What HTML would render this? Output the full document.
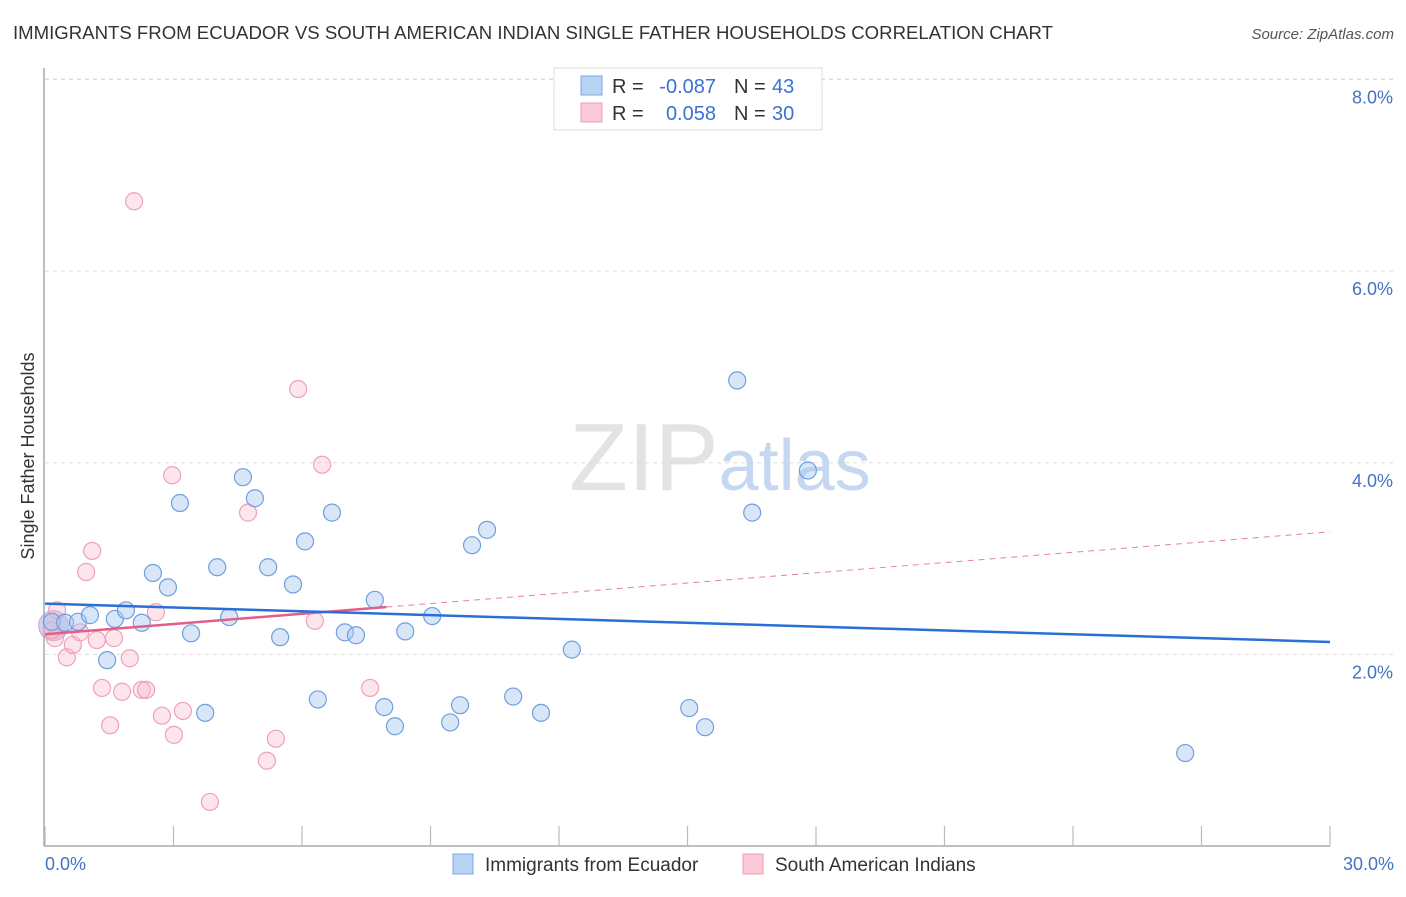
<!DOCTYPE html>
<html><head><meta charset="utf-8"><style>
body{margin:0;background:#fff;font-family:"Liberation Sans",sans-serif;}
svg text{font-family:"Liberation Sans",sans-serif;}
</style></head><body>
<svg width="1406" height="892" xmlns="http://www.w3.org/2000/svg">
<text x="13" y="39" font-size="18.5" fill="#333" textLength="1040" lengthAdjust="spacingAndGlyphs">IMMIGRANTS FROM ECUADOR VS SOUTH AMERICAN INDIAN SINGLE FATHER HOUSEHOLDS CORRELATION CHART</text>
<text x="1394" y="39" font-size="15" fill="#555" font-style="italic" text-anchor="end">Source: ZipAtlas.com</text>
<g id="grid"></g>
<text x="720" y="490" font-size="96" text-anchor="middle" font-family="Liberation Serif" fill="#ddd" opacity="0.8">ZIP<tspan fill="#b8cfee" font-family="Liberation Sans" font-size="72">atlas</tspan></text>
<line x1="44" y1="68" x2="44" y2="846" stroke="#aaa" stroke-width="1.5"/>
<line x1="44" y1="846" x2="1330" y2="846" stroke="#aaa" stroke-width="1.5"/>
<g id="ticks"></g>
<text transform="translate(34,456) rotate(-90)" font-size="18" fill="#333" text-anchor="middle">Single Father Households</text>
<text x="45" y="870" font-size="18" fill="#4472c4">0.0%</text>
<text x="1394" y="870" font-size="18" fill="#4472c4" text-anchor="end">30.0%</text>
<g id="pts"></g>
<g id="trends"></g>
<g>
<rect x="554" y="68" width="268" height="62" fill="#fff" stroke="#ddd"/>
<rect x="581" y="76" width="21" height="19" fill="#b9d3f5" stroke="#7aa7e6"/>
<rect x="581" y="103" width="21" height="19" fill="#fcc9d7" stroke="#f09ab2"/>
<text x="612" y="93" font-size="20" fill="#333">R =</text>
<text x="716" y="93" font-size="20" fill="#3a72d0" text-anchor="end">-0.087</text>
<text x="734" y="93" font-size="20" fill="#333">N =</text>
<text x="772" y="93" font-size="20" fill="#3a72d0">43</text>
<text x="612" y="120" font-size="20" fill="#333">R =</text>
<text x="716" y="120" font-size="20" fill="#3a72d0" text-anchor="end">0.058</text>
<text x="734" y="120" font-size="20" fill="#333">N =</text>
<text x="772" y="120" font-size="20" fill="#3a72d0">30</text>
</g>
<g>
<rect x="453" y="854" width="20" height="20" fill="#b9d3f5" stroke="#7aa7e6"/>
<text x="485" y="871" font-size="19" fill="#333">Immigrants from Ecuador</text></g>
<g>
<rect x="743" y="854" width="20" height="20" fill="#fcc9d7" stroke="#f09ab2"/>
<text x="775" y="871" font-size="19" fill="#333">South American Indians</text></g>
</svg>
<script>
const yTicks=[2,4,6,8];
const yTickLabels=["2.0%","4.0%","6.0%","8.0%"];
const xTicks=[0,3,6,9,12,15,18,21,24,27,30];
const blueX=[0.16,0.47,0.77,1.05,1.45,1.63,1.89,2.26,2.52,2.87,3.15,3.41,3.74,4.02,4.30,4.62,4.90,5.21,5.49,5.79,6.07,6.37,6.70,7.00,7.26,7.70,7.92,8.17,8.41,9.04,9.46,9.69,9.97,10.32,10.93,11.58,12.30,15.04,15.41,16.16,16.51,17.81,26.62];
const blueY=[2.34,2.33,2.34,2.41,1.94,2.37,2.46,2.33,2.85,2.70,3.58,2.22,1.39,2.91,2.39,3.85,3.63,2.91,2.18,2.73,3.18,1.53,3.48,2.23,2.20,2.57,1.45,1.25,2.24,2.40,1.29,1.47,3.14,3.30,1.56,1.39,2.05,1.44,1.24,4.86,3.48,3.92,0.97];
const pinkX=[0.23,0.28,0.51,0.65,0.82,0.96,1.10,1.21,1.33,1.52,1.61,1.80,1.98,2.08,2.26,2.36,2.59,2.73,2.97,3.01,3.22,3.85,4.74,5.18,5.39,5.91,6.30,6.47,7.59,0.16];
const pinkY=[2.17,2.46,1.97,2.10,2.23,2.86,3.08,2.15,1.65,1.26,2.17,1.61,1.96,6.73,1.63,1.63,2.44,1.36,3.87,1.16,1.41,0.46,3.48,0.89,1.12,4.77,2.35,3.98,1.65,2.25];
const blueTrend=[2.53,2.13];
const pinkTrend=[2.21,3.28];
const pinkSolidEnd=7.97;
const NS="http://www.w3.org/2000/svg";
const sx=v=>45+v*(1285/30), sy=v=>846-v*95.8;
function mk(t,a,p){const e=document.createElementNS(NS,t);for(const k in a)e.setAttribute(k,a[k]);p.appendChild(e);return e;}
const grid=document.getElementById('grid'),ticks=document.getElementById('ticks'),pts=document.getElementById('pts'),tr=document.getElementById('trends');
yTicks.forEach((v,i)=>{
 const l=mk('line',{x1:45,x2:1394,y1:sy(v),y2:sy(v),stroke:'#ddd','stroke-dasharray':'4,4'},grid);
 
 
 const t=mk('text',{x:1393,y:sy(v)+24,'font-size':18,fill:'#4472c4','text-anchor':'end'},grid);
 t.textContent=yTickLabels[i];
 
 
});
const topGrid=mk('line',{x1:45,x2:1394,y1:79,y2:79,stroke:'#ddd','stroke-dasharray':'4,4'},grid);


xTicks.forEach(v=>{
 const l=mk('line',{x1:sx(v),x2:sx(v),y1:826,y2:846,stroke:'#bbb','stroke-width':1.2},ticks);
 
 
});
const big=mk('circle',{cx:sx(0.2),cy:sy(2.3),r:15,fill:'rgba(180,160,210,0.5)',stroke:'rgba(160,140,200,0.6)'},pts);


pinkX.forEach((x,i)=>{
 const c=mk('circle',{cx:sx(x),cy:sy(pinkY[i]),r:8.5,fill:'rgba(248,180,200,0.35)',stroke:'#f0a0b8','stroke-width':1.2},pts);
 
 
});
blueX.forEach((x,i)=>{
 const c=mk('circle',{cx:sx(x),cy:sy(blueY[i]),r:8.5,fill:'rgba(170,200,240,0.45)',stroke:'#6f9fe0','stroke-width':1.2},pts);
 
 
});
const pAt=x=>pinkTrend[0]+(pinkTrend[1]-pinkTrend[0])*x/30;
const pd=mk('line',{x1:sx(pinkSolidEnd),y1:sy(pAt(pinkSolidEnd)),x2:sx(30),y2:sy(pinkTrend[1]),stroke:'#e8809f','stroke-width':1,'stroke-dasharray':'6,5'},tr);


const ps=mk('line',{x1:sx(0),y1:sy(pinkTrend[0]),x2:sx(pinkSolidEnd),y2:sy(pAt(pinkSolidEnd)),stroke:'#e0608a','stroke-width':2.5},tr);


const bl=mk('line',{x1:sx(0),y1:sy(blueTrend[0]),x2:sx(30),y2:sy(blueTrend[1]),stroke:'#2a6fd6','stroke-width':2.5},tr);


</script>
</body></html>
